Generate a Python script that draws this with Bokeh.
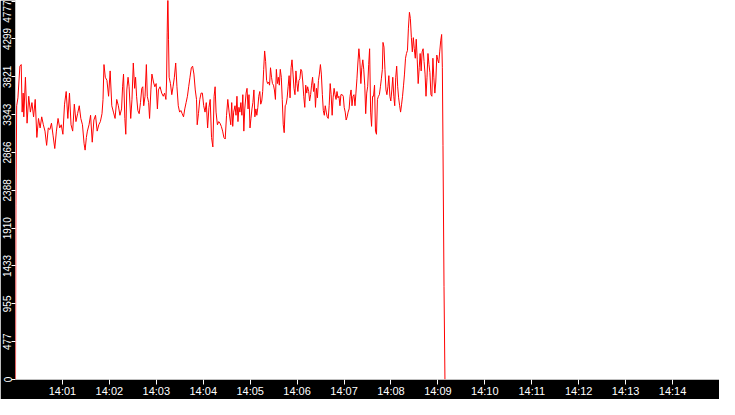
import numpy as np
from bokeh.plotting import figure
from bokeh.models import FixedTicker, DatetimeTickFormatter, Range1d
from bokeh.embed import file_html
from bokeh.resources import INLINE

# ---- data (seconds after 14:00:00, value) ----
start_time = "2024-01-01T14:00:00"
tick_minutes = list(range(1, 15))
y_ticks = [0, 477, 955, 1433, 1910, 2388, 2866, 3343, 3821, 4299, 4777]
y_max = 4785

t_a = [0, 0.5, 1.5, 3.1, 5.6, 7.3, 8.5, 9.8, 10.6, 12.7,
       14.8, 16.9, 19.0, 21.0, 23.1, 25.2, 27.3, 29.4, 31.5, 33.5,
       35.6, 37.7, 39.8, 41.9, 44.0, 46.0, 48.1, 50.2, 52.3, 54.4,
       56.5, 58.5, 60.6, 62.7, 64.8, 66.9, 69.0, 71.0, 73.1, 75.2,
       77.3, 79.4, 81.5, 83.5, 85.6, 87.7, 89.0, 90.6, 91.9, 94.0,
       96.0, 98.1, 100.2, 102.3, 104.4, 106.5, 108.5, 110.6, 111.9, 113.1,
       114.8, 116.9, 119.0, 121.0, 123.1, 125.2, 127.3, 129.4, 131.5, 133.5,
       135.6]
v_a = [0, 2200, 3456, 3556, 3956, 3976, 3376, 3616, 3316, 3816,
       3236, 3576, 3376, 3496, 3316, 3536, 3056, 3296, 3176, 3316,
       3216, 3136, 2956, 3176, 3156, 3236, 3076, 2916, 3136, 3296,
       3176, 3216, 3096, 3476, 3636, 3296, 3616, 3216, 3136, 3476,
       3256, 3356, 3456, 3296, 3216, 2976, 2896, 3056, 3136, 3216,
       3336, 2996, 3276, 3336, 3136, 3216, 3256, 3356, 3536, 3976,
       3816, 3776, 3576, 3896, 3456, 3376, 3296, 3536, 3456, 3336,
       3416]

t_b = [136.9, 138.1, 139.8, 141.0, 142.3, 143.9, 145.2, 147.3, 148.9, 150.6,
       152.3, 153.5, 154.8, 156.4, 158.1, 159.8, 161.4, 162.7, 163.9, 165.6,
       167.3, 168.5, 170.2, 171.4, 173.1, 174.4, 176.4, 178.1, 179.8, 181.4,
       182.7, 184.8, 186.9, 188.9, 190.6, 192.3, 193.1, 193.9, 194.8, 195.6,
       196.4, 198.1, 199.8, 201.4, 203.1, 204.8, 206.4, 208.1, 209.8, 211.4,
       213.1, 214.8, 216.4, 218.1, 219.8, 221.4, 223.1, 224.8, 226.4, 228.1,
       229.8, 231.4, 232.3, 233.9, 235.6, 237.3, 238.9, 240.6, 242.3, 243.9,
       245.6, 247.3, 248.9, 250.6, 252.3, 253.9, 255.2, 256.4, 258.1, 259.8,
       261.4, 263.1, 264.8, 266.4, 268.1, 269.8, 271.4, 273.1]
v_b = [3696, 3856, 3296, 3096, 3656, 3816, 3696, 3296, 3536, 3996,
       3676, 3816, 3576, 3396, 3356, 3496, 3676, 3696, 3456, 3576,
       3976, 3576, 3496, 3296, 3656, 3856, 3756, 3696, 3736, 3416,
       3656, 3696, 3616, 3576, 3616, 3536, 3756, 4376, 4900, 4296,
       3816, 3736, 3596, 3696, 3816, 3996, 3696, 3456, 3376, 3396,
       3356, 3316, 3416, 3496, 3576, 3696, 3816, 3936, 3956, 3856,
       3656, 3536, 3216, 3356, 3536, 3616, 3616, 3456, 3376, 3496,
       3176, 3436, 3536, 3056, 2936, 3576, 3696, 3376, 3216, 3256,
       3236, 3196, 3136, 3056, 3036, 3336, 3536, 3376]

t_c = [275.2, 276.4, 277.7, 278.9, 280.6, 281.9, 283.1, 284.4, 285.6, 286.9,
       288.1, 289.4, 290.6, 291.9, 293.1, 294.8, 296.0, 297.3, 298.5, 299.8,
       301.0, 302.3, 303.5, 304.8, 306.0, 307.3, 308.5, 309.8, 311.0, 312.3,
       313.5, 314.8, 316.0, 317.3, 318.5, 319.8, 321.0, 322.3, 323.5, 324.8,
       326.0, 327.3, 328.5, 329.8, 331.0, 332.3, 333.5, 334.8, 336.0, 337.3,
       338.5, 339.8, 341.0, 342.3, 343.5, 344.8, 346.0, 347.3, 348.5, 349.8,
       351.0, 352.3, 353.5, 354.8, 356.0, 357.3, 358.5, 359.8, 361.0, 362.3,
       363.5, 364.8, 366.0, 367.3, 368.5, 369.8, 371.0, 372.3, 373.5, 374.8,
       376.0, 377.3, 378.5, 379.8, 381.0, 382.3, 383.5, 384.8, 386.0, 387.3,
       388.5, 389.8, 391.0, 392.3, 393.5, 394.8, 396.0, 397.3, 398.5, 399.8,
       401.0, 402.3, 403.5, 404.8, 406.0, 407.3, 408.5, 409.8, 411.0, 412.3,
       413.5, 414.8, 416.0]
v_c = [3216, 3496, 3196, 3376, 3456, 3336, 3576, 3256, 3436, 3376,
       3496, 3336, 3596, 3136, 3416, 3616, 3676, 3416, 3596, 3176,
       3296, 3416, 3496, 3656, 3316, 3416, 3336, 3436, 3576, 3636,
       3476, 3516, 3636, 3916, 4148, 4016, 3776, 3736, 3756, 3716,
       3936, 3816, 3736, 3716, 3656, 3536, 3916, 3736, 3816, 3716,
       3916, 3816, 3536, 3216, 3116, 3456, 3476, 3556, 3696, 3836,
       3556, 3936, 4036, 3856, 3676, 3596, 3896, 3736, 3636, 3776,
       3796, 3916, 3896, 3756, 3576, 3436, 3716, 3616, 3696, 3636,
       3516, 3596, 3716, 3816, 3636, 3736, 3436, 3676, 3556, 3776,
       3856, 3976, 3856, 3596, 3396, 3336, 3456, 3376, 3316, 3296,
       3456, 3736, 3596, 3336, 3556, 3676, 3596, 3536, 3636, 3556,
       3576, 3456, 3596]

t_d = [417.7, 419.0, 420.2, 421.5, 422.7, 424.0, 425.2, 426.5, 427.7, 429.0,
       430.2, 431.5, 432.7, 434.0, 435.2, 436.5, 437.7, 439.0, 440.2, 441.5,
       442.7, 444.0, 445.2, 446.5, 447.7, 449.0, 450.2, 451.5, 452.7, 454.0,
       455.2, 456.5, 457.7, 459.0, 460.2, 461.5, 462.7, 464.0, 465.2, 466.5,
       467.7, 469.0, 469.8, 471.1, 472.3, 473.6, 474.8, 476.1, 477.3, 478.6,
       479.8, 481.1, 482.3, 483.6, 484.8, 486.1, 487.3, 488.6, 489.8, 491.1,
       492.3, 493.6, 494.8, 496.1, 497.3, 498.6, 499.8, 501.1, 502.3, 503.6,
       504.8, 506.1, 507.3, 508.6, 509.8, 511.1, 512.3, 513.6, 514.8, 516.1,
       517.3, 518.6, 519.8, 521.1, 522.3, 523.6, 524.8, 526.1, 527.3, 528.6,
       529.8, 531.1, 532.3, 533.6, 534.8, 536.1, 537.3, 538.6, 539.8, 541.1,
       542.3, 543.6, 544.8, 545.7, 546.5, 547.8, 549.0]
v_d = [3596, 3576, 3436, 3376, 3276, 3316, 3376, 3416, 3576, 3656,
       3456, 3576, 3596, 3456, 3616, 3796, 3996, 4176, 4036, 3736,
       3936, 4036, 3916, 3716, 3356, 3616, 3696, 3976, 4176, 3376,
       3196, 3576, 3576, 3716, 3136, 3096, 3536, 3576, 3596, 3696,
       3796, 3916, 4256, 4196, 3916, 3656, 3596, 3696, 3836, 3576,
       3516, 3656, 3816, 3576, 3456, 3816, 3956, 3696, 3556, 3456,
       3376, 3476, 3576, 3716, 3856, 4056, 4116, 4156, 4436, 4636,
       4556, 4316, 4136, 4316, 4176, 4056, 4296, 4036, 3736, 3936,
       4116, 3896, 4136, 4176, 4016, 3856, 3576, 3816, 4116, 3976,
       3876, 3596, 3576, 4056, 3816, 3616, 3756, 4096, 4036, 3996,
       4136, 4276, 4356, 3936, 2952, 1176, 0]

# ---- build ----
t_all, v_all = [], []
for ts, vs in ((t_a, v_a), (t_b, v_b), (t_c, v_c), (t_d, v_d)):
    for t, v in zip(ts, vs):
        t_all.append(t)
        v_all.append(v)

t0 = np.datetime64(start_time, "ms")
x = t0 + (np.array(t_all) * 1000).astype("timedelta64[ms]")
epoch = np.datetime64("1970-01-01T00:00:00", "ms")
t0_ms = float((t0 - epoch) / np.timedelta64(1, "ms"))
x_ticks = [t0_ms + m * 60000 for m in tick_minutes]

p = figure(width=719, height=399, x_axis_type="datetime",
           output_backend="svg", toolbar_location=None,
           x_range=Range1d(t0_ms, t0_ms + 15 * 60000),
           y_range=Range1d(0, y_max), min_border=0)
p.line(x, v_all, line_color="#ff0000", line_width=1)

p.background_fill_color = "white"
p.border_fill_color = "black"
p.outline_line_color = None
p.grid.visible = False

for ax in (p.xaxis[0], p.yaxis[0]):
    ax.axis_line_color = None
    ax.major_tick_line_color = "white"
    ax.major_tick_in = 0
    ax.minor_tick_line_color = None
    ax.major_label_text_color = "white"
    ax.major_label_text_font = "Liberation Sans"

p.xaxis[0].ticker = FixedTicker(ticks=x_ticks, minor_ticks=[])
p.xaxis[0].formatter = DatetimeTickFormatter(
    seconds="%H:%M", minsec="%H:%M", minutes="%H:%M",
    hourmin="%H:%M", hours="%H:%M", context=None)
p.xaxis[0].major_tick_out = 5
p.xaxis[0].major_label_standoff = 0
p.xaxis[0].major_label_text_font_size = "11px"

p.yaxis[0].ticker = FixedTicker(ticks=y_ticks, minor_ticks=[])
p.yaxis[0].major_label_orientation = "vertical"
p.yaxis[0].major_tick_out = 4
p.yaxis[0].major_label_standoff = 0
p.yaxis[0].major_label_text_font_size = "10px"

open("out.html", "w").write(file_html(p, INLINE))
